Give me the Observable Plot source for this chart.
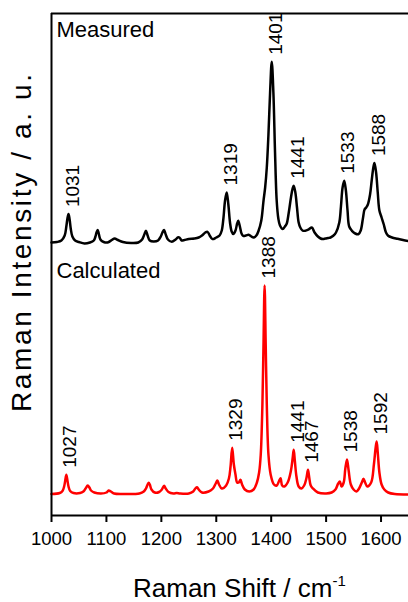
<!DOCTYPE html>
<html>
<head>
<meta charset="utf-8">
<script src="https://cdn.jsdelivr.net/npm/d3@7"></script>
<script src="https://cdn.jsdelivr.net/npm/@observablehq/plot@0.6"></script>
<style>
  body { margin: 0; background: #fff; }
  svg { display: block; }
</style>
</head>
<body>
<div id="chart"></div>
<script>
// Raman spectra: [wavenumber (cm^-1), intensity (a.u.)]
const measured = [
  [1000,0],[1010,0.5],[1018,2],[1024,7],[1027,16],[1029,24],[1031,28.4],[1033,23],[1035,14],[1038,6],[1043,2],[1050,0.5],
  [1060,-1],[1070,0],[1077,2],[1080,6],[1082,10],[1084,12.4],[1086,9],[1089,3],[1095,0.5],[1102,0],[1110,2.5],[1115,4],
  [1121,2.5],[1130,0.5],[1145,-0.5],[1158,0],[1165,3],[1169,8],[1172,11.7],[1175,7],[1179,2],[1186,1],[1194,2],[1199,6],
  [1202,10],[1205,12.4],[1208,8],[1212,3],[1219,0.7],[1226,3],[1230,5],[1233,5],[1237,2],[1242,2.5],[1250,3.5],[1260,4],
  [1268,5],[1274,7],[1280,10],[1284,10.7],[1288,7],[1293,3.4],[1300,5],[1306,7],[1310,12],[1313,24],[1316,42],[1319,50],
  [1322,38],[1325,20],[1328,11],[1331,8.4],[1335,12],[1338,19],[1340,21.7],[1343,16],[1346,9],[1349,6.7],[1354,7],[1359,7.7],
  [1364,6],[1368,5],[1373,7],[1377,11.7],[1382,22],[1386,41.7],[1389,55],[1392,75],[1395,108],[1398,150],[1401,180.7],
  [1404,150],[1407,90],[1410,42],[1413,24],[1416,17],[1421,13.4],[1425,16],[1428,18.4],[1432,30],[1436,45],[1439,54],
  [1441,56.7],[1444,50],[1447,35],[1450,20],[1453,15],[1457,12],[1462,11.7],[1468,13],[1474,15],[1479,10],[1485,6],
  [1490,4],[1494,3.4],[1499,4],[1504,4.5],[1508,5],[1513,6.7],[1518,10],[1524,20],[1527,36],[1530,55],[1533,61.7],
  [1536,52],[1539,32],[1542,16],[1547,11.7],[1553,9],[1559,8.4],[1563,12],[1567,24],[1570,33],[1573,35],[1576,38],
  [1580,48],[1583,62],[1586,75],[1588,79.4],[1591,70],[1594,50],[1597,32],[1601,25],[1605,18],[1609,10],[1613,6.7],
  [1620,5],[1630,3.7],[1640,2.5],[1650,1.5]
];

const calculated = [
  [1000,0.5],[1015,1.5],[1020,3.5],[1023,8],[1025,14],[1027,19.7],[1029,14],[1031,8],[1034,3.5],[1040,1.5],[1052,1.5],
  [1058,3],[1062,6],[1066,9],[1069,7],[1072,4],[1078,2],[1090,1],[1100,2],[1104,4],[1108,3],[1114,1],[1130,0.5],[1160,1],
  [1168,3],[1172,6],[1175,10],[1177,11.7],[1179,10],[1182,5],[1188,2],[1196,2.5],[1201,5],[1205,8.7],[1208,6],[1213,2.5],
  [1222,1],[1228,1.5],[1234,1],[1250,1],[1258,3],[1262,6],[1265,7.3],[1268,5],[1274,2],[1286,3],[1294,6],[1299,11],
  [1302,14],[1305,10],[1310,6],[1318,9],[1323,16],[1326,28],[1329,46.7],[1332,30],[1335,20],[1338,12],[1341,12],
  [1344,14.7],[1347,10],[1352,5],[1360,3],[1368,5],[1374,12],[1378,22],[1381,40],[1384,90],[1386,150],[1388,209],
  [1390,150],[1392,90],[1395,40],[1399,20],[1405,10],[1410,9],[1414,13],[1417,16.3],[1420,9],[1424,8],[1430,12],
  [1436,24],[1439,36],[1441,44.7],[1443,34],[1446,18],[1450,8],[1455,6],[1460,9],[1464,16],[1467,24.7],[1469,18],
  [1472,9],[1476,6],[1485,2],[1500,1],[1510,2],[1517,5],[1522,11],[1525,13],[1528,8],[1532,12],[1535,26],[1538,35],
  [1541,24],[1545,10],[1550,5],[1555,3],[1560,6],[1565,12],[1568,15.7],[1571,12],[1575,8],[1582,12],[1587,30],[1590,46],
  [1592,53],[1594,42],[1597,22],[1601,10],[1606,5],[1613,2],[1625,0.5],[1650,0]
];

// Labelled band positions (cm^-1)
const measuredPeaks = [1031, 1319, 1401, 1441, 1533, 1588];
const calculatedPeaks = [1027, 1329, 1388, 1441, 1467, 1538, 1592];

const xTicks = [1000, 1100, 1200, 1300, 1400, 1500, 1600];
const xDomain = [1000, 1650];

// vertical stacking of the two traces
const yMax = 502;
const measuredOffset = 273;
const calculatedOffset = 21;

const font = "'Liberation Sans', Arial, Helvetica, sans-serif";

const toRows = (series, offset) => series.map(([wn, v]) => ({wn, y: v + offset}));
const peakRows = (peaks, series, offset) =>
  peaks.map(p => ({wn: p, y: series.find(d => d[0] === p)[1] + offset, label: String(p)}));

const measuredRows = toRows(measured, measuredOffset);
const calculatedRows = toRows(calculated, calculatedOffset);

const peakLabel = {x: "wn", y: "y", text: "label", rotate: -90, textAnchor: "start",
                   dx: 4, dy: -7, fontSize: 19, fill: "#000"};

const plot = Plot.plot({
  width: 408,
  height: 602,
  marginLeft: 51,
  marginRight: 0,
  marginTop: 13,
  marginBottom: 87,
  style: {fontFamily: font, background: "#fff", color: "#000", overflow: "hidden"},
  x: {domain: xDomain},
  y: {domain: [0, yMax], axis: null},
  marks: [
    Plot.line(measuredRows, {x: "wn", y: "y", stroke: "#000", strokeWidth: 2.5, curve: "catmull-rom"}),
    Plot.line(calculatedRows, {x: "wn", y: "y", stroke: "#ff0000", strokeWidth: 2.5, curve: "catmull-rom"}),
    Plot.ruleX([xDomain[0]], {stroke: "#000", strokeWidth: 2}),
    Plot.ruleY([0, yMax], {stroke: "#000", strokeWidth: 2}),
    Plot.axisX({ticks: xTicks, tickSize: 7, tickPadding: 9, tickFormat: d => String(d),
                fontSize: 18.5, label: null, strokeWidth: 2}),
    Plot.text(peakRows(measuredPeaks, measured, measuredOffset), peakLabel),
    Plot.text(peakRows(calculatedPeaks, calculated, calculatedOffset), peakLabel),
    Plot.text(["Measured"], {frameAnchor: "top-left", text: d => d, lineAnchor: "top", textAnchor: "start",
                             dx: 5, dy: 8, fontSize: 22, fill: "#000"}),
    Plot.text(["Calculated"], {frameAnchor: "top-left", text: d => d, lineAnchor: "top", textAnchor: "start",
                               dx: 5, dy: 249, fontSize: 22, fill: "#000"})
  ]
});

// axis titles
const svg = d3.select(plot);
svg.append("text")
  .attr("transform", "translate(31,243) rotate(-90)")
  .attr("text-anchor", "middle")
  .attr("font-family", font)
  .attr("font-size", 28)
  .attr("textLength", 338)
  .attr("lengthAdjust", "spacing")
  .attr("fill", "#000")
  .text("Raman Intensity / a. u.");

const xTitle = svg.append("text")
  .attr("x", 133)
  .attr("y", 597)
  .attr("text-anchor", "start")
  .attr("font-family", font)
  .attr("font-size", 26)
  .attr("fill", "#000");
xTitle.append("tspan").text("Raman Shift / cm");
xTitle.append("tspan").attr("dy", -11).attr("font-size", 15).text("-1");

document.getElementById("chart").appendChild(plot);
</script>
</body>
</html>
